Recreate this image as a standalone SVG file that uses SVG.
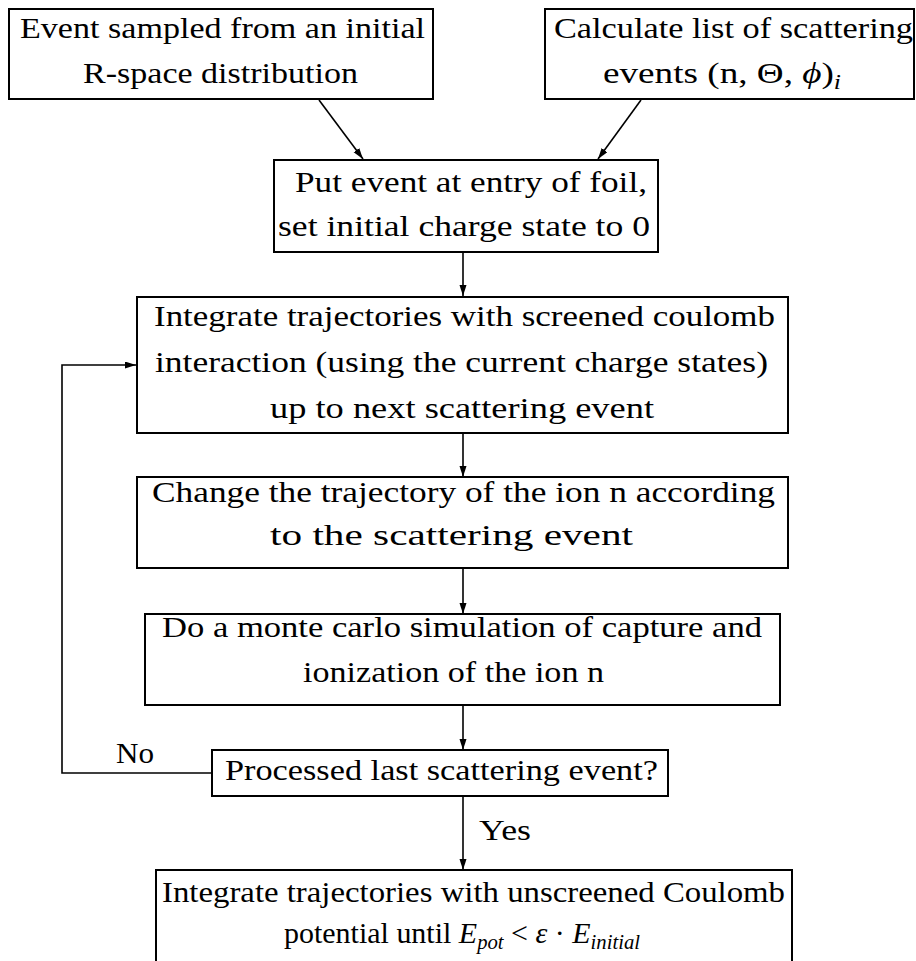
<svg xmlns="http://www.w3.org/2000/svg" width="916" height="961" viewBox="0 0 916 961">
<style>
  .box { fill: #fff; stroke: #000; stroke-width: 2; }
  .t { font-family: "Liberation Serif", "Times New Roman", serif; font-size: 29px; fill: #000; }
  .it { font-style: italic; }
  .sub { font-size: 20px; font-style: italic; }
  .conn { fill: none; stroke: #000; stroke-width: 1.6; }
</style>
<defs>
  <marker id="ah" markerUnits="userSpaceOnUse" markerWidth="12" markerHeight="8" refX="11" refY="3.5" orient="auto">
    <path d="M0,0 L11,3.5 L0,7 Z" fill="#000"/>
  </marker>
</defs>
<rect width="916" height="961" fill="#fff"/>

<g id="connectors">
  <line class="conn" x1="319" y1="100" x2="363" y2="159" marker-end="url(#ah)"/>
  <line class="conn" x1="641" y1="100" x2="598" y2="159" marker-end="url(#ah)"/>
  <line class="conn" x1="463" y1="252" x2="463" y2="296" marker-end="url(#ah)"/>
  <line class="conn" x1="463" y1="433" x2="463" y2="477" marker-end="url(#ah)"/>
  <line class="conn" x1="463" y1="568" x2="463" y2="614" marker-end="url(#ah)"/>
  <line class="conn" x1="463" y1="705" x2="463" y2="750" marker-end="url(#ah)"/>
  <line class="conn" x1="463" y1="796" x2="463" y2="870" marker-end="url(#ah)"/>
  <polyline class="conn" points="212,773 62,773 62,365 136,365" marker-end="url(#ah)"/>
  <text class="t" x="116" y="763" textLength="38" lengthAdjust="spacingAndGlyphs">No</text>
  <text class="t" x="479" y="840" textLength="52" lengthAdjust="spacingAndGlyphs">Yes</text>
</g>

<g id="n1">
  <rect class="box" x="9" y="9" width="424" height="90"/>
  <text class="t" x="20" y="38" textLength="405" lengthAdjust="spacingAndGlyphs">Event sampled from an initial</text>
  <text class="t" x="83" y="83" textLength="275" lengthAdjust="spacingAndGlyphs">R-space distribution</text>
</g>

<g id="n2">
  <rect class="box" x="545" y="9" width="369" height="90"/>
  <text class="t" x="554" y="38" textLength="359" lengthAdjust="spacingAndGlyphs">Calculate list of scattering</text>
  <text class="t" x="603" y="83" textLength="238" lengthAdjust="spacingAndGlyphs">events (n, Θ, <tspan class="it">ϕ</tspan>)<tspan class="sub" dy="6">i</tspan></text>
</g>

<g id="n3">
  <rect class="box" x="274" y="160" width="384" height="92"/>
  <text class="t" x="295" y="192" textLength="352" lengthAdjust="spacingAndGlyphs">Put event at entry of foil,</text>
  <text class="t" x="278" y="236" textLength="372" lengthAdjust="spacingAndGlyphs">set initial charge state to 0</text>
</g>

<g id="n4">
  <rect class="box" x="137" y="297" width="651" height="136"/>
  <text class="t" x="154" y="326" textLength="621" lengthAdjust="spacingAndGlyphs">Integrate trajectories with screened coulomb</text>
  <text class="t" x="155" y="372" textLength="613" lengthAdjust="spacingAndGlyphs">interaction (using the current charge states)</text>
  <text class="t" x="270" y="418" textLength="384" lengthAdjust="spacingAndGlyphs">up to next scattering event</text>
</g>

<g id="n5">
  <rect class="box" x="137" y="477" width="651" height="91"/>
  <text class="t" x="152" y="502" textLength="623" lengthAdjust="spacingAndGlyphs">Change the trajectory of the ion n according</text>
  <text class="t" x="270" y="545" textLength="363" lengthAdjust="spacingAndGlyphs">to the scattering event</text>
</g>

<g id="n6">
  <rect class="box" x="145" y="614" width="635" height="91"/>
  <text class="t" x="162" y="637" textLength="600" lengthAdjust="spacingAndGlyphs">Do a monte carlo simulation of capture and</text>
  <text class="t" x="303" y="682" textLength="301" lengthAdjust="spacingAndGlyphs">ionization of the ion n</text>
</g>

<g id="n7">
  <rect class="box" x="212" y="750" width="456" height="46"/>
  <text class="t" x="225" y="780" textLength="433" lengthAdjust="spacingAndGlyphs">Processed last scattering event?</text>
</g>

<g id="n8">
  <rect class="box" x="156" y="870" width="636" height="140"/>
  <text class="t" x="162" y="902" textLength="623" lengthAdjust="spacingAndGlyphs">Integrate trajectories with unscreened Coulomb</text>
  <text class="t" x="284" y="943" textLength="356" lengthAdjust="spacingAndGlyphs">potential until <tspan class="it">E</tspan><tspan class="sub" dy="6">pot</tspan><tspan dy="-6"> &lt; </tspan><tspan class="it">ε</tspan> · <tspan class="it">E</tspan><tspan class="sub" dy="6">initial</tspan></text>
</g>
</svg>
